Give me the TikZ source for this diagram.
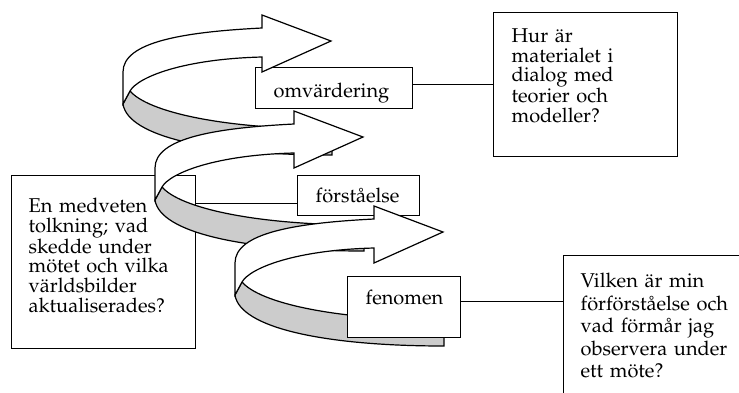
\documentclass[tikz,border=0pt]{standalone}
\usepackage[T1]{fontenc}
\usepackage{mathpazo}
\usepackage{tikz}
\definecolor{band}{RGB}{204,204,204}
\newcommand{\drawribbon}[2]{
  \begin{scope}[shift={(#1,#2)}]
    \filldraw[fill=band] (7,19) .. controls (25,40) and (100,57) .. (209,57) -- (209,83)
      .. controls (90,83) and (5,65) .. (0,32) -- cycle;
    \filldraw[fill=white] (0,32) -- (0,0) .. controls (0,-30) and (60,-40) .. (139,-44)
      -- (139,-57) -- (208,-31) -- (139,0) -- (139,-15)
      .. controls (60,-13) and (15,5) .. (7,19) -- cycle;
  \end{scope}
}
\tikzset{textbox/.style={draw, fill=white, align=left, anchor=north west,
  inner ysep=0pt, inner xsep=18pt, font=\fontsize{20}{19.6}\selectfont}}

\begin{document}
\begin{tikzpicture}[x=1pt, y=-1pt, line width=1.2pt]
\useasboundingbox (0,0) rectangle (739,392);
\clip (0,0) rectangle (739,392);
\node[textbox, inner xsep=17pt, inner ysep=23pt, text width=150pt, text height=14pt, text depth=113pt] (medv) at (11,175)
  {En medveten\\tolkning; vad\\skedde under\\m\"otet och vilka\\v\"arldsbilder\\aktualiserades?};
\node[textbox, text width=121pt, text height=30pt, text depth=11pt] (omv) at (255,67) {omv\"ardering};
\node[textbox, text width=86pt, text height=27pt, text depth=13pt] (forst) at (297,175) {f\"orst\aa{}else};
\draw ([yshift=-8pt]forst.west) -- ([yshift=-8pt]forst.west -| medv.east);
\drawribbon{123}{72}
\drawribbon{155}{168}
\drawribbon{235}{263}
\node[textbox, text width=77pt, text height=28pt, text depth=33pt] (fen) at (347,276) {fenomen};
\node[textbox, inner ysep=16pt, text width=148pt, text height=14pt, text depth=98pt] (hur) at (493,12)
  {Hur \"ar\\materialet i\\dialog med\\teorier och\\modeller?};
\node[textbox, inner xsep=17pt, text width=220pt, text height=32pt, text depth=200pt,
  font=\fontsize{20}{22.5}\selectfont] (vilk) at (563,255)
  {Vilken \"ar min\\f\"orf\"orst\aa{}else och\\vad f\"orm\aa{}r jag\\observera under\\ett m\"ote?};
\draw (hur.west) -- (hur.west -| omv.east);
\draw ([yshift=6pt]fen.east) -- ([yshift=6pt]fen.east -| vilk.west);
\end{tikzpicture}
\end{document}
